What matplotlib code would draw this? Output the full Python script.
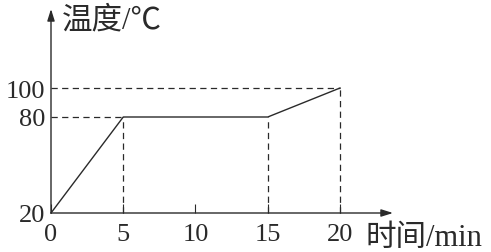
import numpy as np
import matplotlib
matplotlib.use("Agg")
import matplotlib.pyplot as plt

# data
time_min = [0, 5, 15, 20]
temp_c = [20, 80, 80, 100]
x_ticks = [0, 5, 10, 15, 20]
y_ticks = [20, 80, 100]
x_label = "时间/min"
y_label = "温度/℃"

INK = "#2a2a2a"
FAM = ["Liberation Serif", "Noto Sans CJK SC"]

# piecewise-linear y scale (the original axis is not to scale)
_yv = np.array([0, 20, 80, 100, 300], dtype=float)
_yp = np.array([-32, 0, 96, 125, 415], dtype=float)


def fwd(y):
    return np.interp(y, _yv, _yp)


def inv(p):
    return np.interp(p, _yp, _yv)


W, H = 491, 253
fig = plt.figure(figsize=(W / 100, H / 100), dpi=100)
x0, x1, y0, y1 = 51, 393, 214, 10
ax = fig.add_axes([x0 / W, (H - y0) / H, (x1 - x0) / W, (y0 - y1) / H])
ax.set_yscale("function", functions=(fwd, inv))
xmax = (x1 - x0) / 14.45
ymax = float(inv(y0 - y1))
ax.set_xlim(0, xmax)
ax.set_ylim(20, ymax)
for s in ax.spines.values():
    s.set_visible(False)
ax.patch.set_visible(False)

# main line
ax.plot(time_min, temp_c, color=INK, lw=1.0, clip_on=False)

# dashed guides
dash = dict(color=INK, lw=0.9, ls=(0, (5, 3.5)), clip_on=False)
ax.plot([0, time_min[-1]], [temp_c[-1], temp_c[-1]], **dash)
ax.plot([0, time_min[1]], [temp_c[1], temp_c[1]], **dash)
for t, v in zip(time_min[1:], temp_c[1:]):
    ax.plot([t, t], [y_ticks[0], v], **dash)

# arrows (axes)
ap = dict(arrowstyle="-|>,head_length=0.7,head_width=0.22", color=INK, lw=1.0,
          shrinkA=0, shrinkB=0, mutation_scale=10)
ax.annotate("", xy=(xmax, 20), xytext=(0, 20), arrowprops=ap, annotation_clip=False)
ax.annotate("", xy=(0, ymax), xytext=(0, 20), arrowprops=ap, annotation_clip=False)

ax.set_xticks(x_ticks)
ax.set_xticklabels([str(v) for v in x_ticks])
ax.set_yticks(y_ticks)
ax.set_yticklabels([str(v) for v in y_ticks])
ax.yaxis.set_minor_locator(matplotlib.ticker.NullLocator())
ax.tick_params(axis="x", direction="in", length=6.5, width=0.8, color=INK,
               pad=7, labelsize=19, labelcolor=INK)
ax.tick_params(axis="y", length=0, pad=4, labelsize=19, labelcolor=INK)
for lab in ax.get_xticklabels() + ax.get_yticklabels():
    lab.set_fontfamily(FAM)

fig.text(62 / W, 1 - 21 / H, y_label, family=FAM, fontsize=22, color=INK,
         ha="left", va="center")
fig.text(366 / W, 1 - 239 / H, x_label, family=FAM, fontsize=22, color=INK,
         ha="left", va="center")

fig.savefig("out.png", dpi=100)
